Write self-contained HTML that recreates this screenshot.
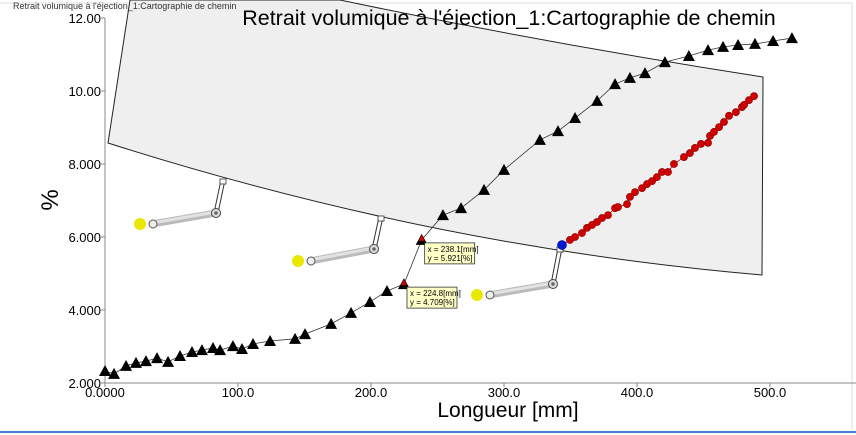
<!DOCTYPE html>
<html><head><meta charset="utf-8"><style>
html,body{margin:0;padding:0;background:#fff;}
svg{display:block;font-family:"Liberation Sans",sans-serif;}
</style></head><body>
<svg id="chart" width="856" height="435" viewBox="0 0 856 435" xmlns="http://www.w3.org/2000/svg">
<rect x="0" y="0" width="856" height="435" fill="#fff"/>
<line x1="0" y1="432" x2="856" y2="432" stroke="#4a7fd0" stroke-width="2"/>
<line x1="0" y1="3" x2="852" y2="3" stroke="#ddd" stroke-width="1"/>
<line x1="852" y1="3" x2="852" y2="430" stroke="#ddd" stroke-width="1"/>
<path d="M130,0 L340,0 Q550,44 763,77 L762,275 Q435,247 108,143 Z" fill="#efefef" stroke="#222" stroke-width="1"/>
<g id="gates"></g>
<g id="axes"></g>
<g id="series"></g>
<text x="13" y="9" font-size="9" fill="#333">Retrait volumique à l'éjection_1:Cartographie de chemin</text>
<text x="509" y="25" font-size="21.5" text-anchor="middle" fill="#000">Retrait volumique à l'éjection_1:Cartographie de chemin</text>
<text x="58" y="200" font-size="24" text-anchor="middle" transform="rotate(-90 58 200)" fill="#000">%</text>
<text x="508" y="417" font-size="21" text-anchor="middle" fill="#000">Longueur [mm]</text>
</svg>
<script>
const triX=[0,6.8,15.8,23.3,30.8,39.1,47.4,56.4,65.4,72.9,81.2,86.5,96.2,103,111.3,124.1,142.9,150.4,170,185,199.2,212,224.8,238.1,254.1,267.7,285,300,327,340.6,353.4,370,383.5,394.7,406,421,439,453.4,464.7,476,488.7,502.3,516.5];
const triY=[2.33,2.25,2.47,2.55,2.60,2.68,2.58,2.74,2.85,2.90,2.96,2.90,3.01,2.93,3.07,3.15,3.21,3.34,3.62,3.92,4.22,4.52,4.709,5.921,6.60,6.79,7.29,7.84,8.66,8.90,9.26,9.73,10.19,10.36,10.49,10.79,10.96,11.12,11.21,11.26,11.29,11.37,11.45];
const dotX=[343.6,349.6,353.4,358.6,362.4,366.2,369.9,373.7,378.2,383.5,385.7,392.5,394.7,398.5,403.8,407.5,411.3,415.0,418.8,423.3,427.8,435.3,439.8,443.6,448.1,453.4,454.9,457.9,461.7,465.4,469.2,474.4,478.9,480.5,484.2,488.0];
const dotY=[5.78,5.92,6.00,6.11,6.25,6.33,6.41,6.52,6.60,6.79,6.82,6.90,7.10,7.23,7.34,7.45,7.53,7.64,7.78,7.78,8.00,8.19,8.30,8.44,8.55,8.58,8.77,8.88,9.01,9.15,9.32,9.42,9.56,9.62,9.75,9.86];
const xTicks=[0,100,200,300,400,500];
const xTickLabels=["0.0000","100.0","200.0","300.0","400.0","500.0"];
const yTicks=[2,4,6,8,10,12];
const yTickLabels=["2.000","4.000","6.000","8.000","10.00","12.00"];
const probeIdx=[22,23];

const NS="http://www.w3.org/2000/svg";
const X0=105,XS=1.33,Y0=383,YS=36.5;
function sx(v){return X0+v*XS;}
function sy(v){return Y0-(v-2)*YS;}
function mk(tag,attrs,parent){const e=document.createElementNS(NS,tag);for(const k in attrs)e.setAttribute(k,attrs[k]);parent.appendChild(e);return e;}

const gates=document.getElementById('gates');
[[140,224,216,213,223,180],[298,261,374,249,381,217],[477,295,553,284,560,248]].forEach((g,i)=>{
  const grp=mk('g',{},gates);
  
  
  mk('line',{x1:g[4]-2,y1:g[5],x2:g[2]-2,y2:g[3],stroke:'#333','stroke-width':1},grp);
  mk('line',{x1:g[4]+2,y1:g[5],x2:g[2]+2,y2:g[3],stroke:'#333','stroke-width':1},grp);
  mk('rect',{x:g[4]-3,y:g[5]-1,width:6,height:5,fill:'#fff',stroke:'#333','stroke-width':0.8},grp);
  mk('line',{x1:g[0]+12,y1:g[1],x2:g[2],y2:g[3],stroke:'#bbb','stroke-width':7,'stroke-linecap':'round'},grp);
  mk('line',{x1:g[0]+12,y1:g[1]-1,x2:g[2],y2:g[3]-1,stroke:'#e2e2e2','stroke-width':3},grp);
  mk('circle',{cx:g[2],cy:g[3],r:4.5,fill:'#ddd',stroke:'#444','stroke-width':1},grp);
  mk('circle',{cx:g[2],cy:g[3],r:1.8,fill:'#666'},grp);
  mk('circle',{cx:g[0]+13,cy:g[1],r:4,fill:'#eee',stroke:'#555','stroke-width':1},grp);
  mk('circle',{cx:g[0],cy:g[1],r:6,fill:'#e8e800'},grp);
});

const ax=document.getElementById('axes');
const ya=mk('line',{x1:X0,y1:18,x2:X0,y2:Y0,stroke:'#888','stroke-width':1},ax);


const xa=mk('line',{x1:X0,y1:Y0,x2:856,y2:Y0,stroke:'#888','stroke-width':1},ax);


yTicks.forEach((v,i)=>{
  mk('line',{x1:X0-4,y1:sy(v),x2:X0,y2:sy(v),stroke:'#888'},ax);
  const t=mk('text',{x:X0-4,y:sy(v)+5,'font-size':13,'text-anchor':'end',fill:'#000'},ax);
  t.textContent=yTickLabels[i];
  
  
});
xTicks.forEach((v,i)=>{
  mk('line',{x1:sx(v),y1:Y0,x2:sx(v),y2:Y0+4,stroke:'#888'},ax);
  const t=mk('text',{x:sx(v),y:Y0+14,'font-size':13,'text-anchor':'middle',fill:'#000'},ax);
  t.textContent=xTickLabels[i];
  
  
});

const se=document.getElementById('series');
const tl=mk('polyline',{points:triX.map((v,i)=>sx(v)+','+sy(triY[i])).join(' '),fill:'none',stroke:'#333','stroke-width':0.8},se);


triX.forEach((v,i)=>{
  const x=sx(v),y=sy(triY[i]);
  const red=probeIdx.includes(i);
  const p=mk('polygon',{points:`${x},${y-6} ${x-6},${y+5} ${x+6},${y+5}`,fill:'#000'},se);
  
  
  if(red) mk('polygon',{points:`${x},${y-5} ${x-3},${y+1} ${x+3},${y+1}`,fill:'#d00000'},se);
});
const dl=mk('polyline',{points:dotX.map((v,i)=>sx(v)+','+sy(dotY[i])).join(' '),fill:'none',stroke:'#a00','stroke-width':0.8},se);


dotX.forEach((v,i)=>{
  const c=mk('circle',{cx:sx(v),cy:sy(dotY[i]),r:i===0?4.5:3.6,fill:i===0?'#0018d0':'#d00000',stroke:i===0?'#000080':'#800','stroke-width':0.6},se);
  
  
});
probeIdx.forEach(i=>{
  const x=sx(triX[i])+3,y=sy(triY[i])+3;
  const g=mk('g',{},se);
  
  
  mk('rect',{x:x,y:y,width:50,height:21,fill:'#ffffc8',stroke:'#333','stroke-width':0.8},g);
  const t1=mk('text',{x:x+3,y:y+9,'font-size':8,fill:'#000'},g);
  t1.textContent='x = '+triX[i].toFixed(1)+'[mm]';
  const t2=mk('text',{x:x+3,y:y+18,'font-size':8,fill:'#000'},g);
  t2.textContent='y = '+triY[i].toFixed(3)+'[%]';
});
</script>
</body></html>
